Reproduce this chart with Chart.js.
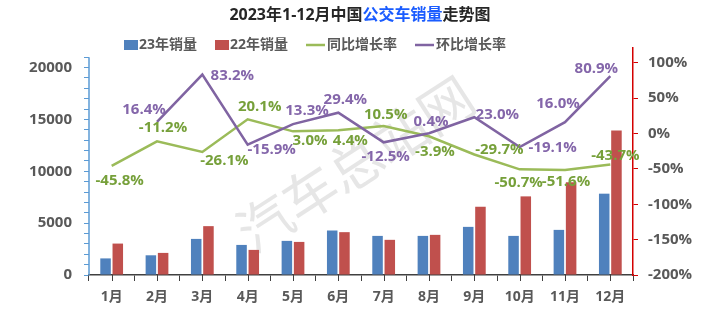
<!DOCTYPE html>
<html>
<head>
<meta charset="utf-8">
<script src="https://cdn.jsdelivr.net/npm/chart.js@4.4.1/dist/chart.umd.min.js"></script>
<style>
  body { margin: 0; background: #fff; }
  #wrap { width: 721px; height: 322px; position: relative; }
</style>
</head>
<body>
<div id="wrap"><canvas id="busChart"></canvas></div>
<script>
// data
var months = ['1月', '2月', '3月', '4月', '5月', '6月', '7月', '8月', '9月', '10月', '11月', '12月'];
var sales2023 = [1600, 1900, 3480, 2900, 3290, 4290, 3770, 3770, 4640, 3770, 4350, 7840];
var sales2022 = [3030, 2130, 4710, 2420, 3190, 4130, 3390, 3870, 6580, 7580, 8935, 13930];
var yoyRate = [-45.8, -11.2, -26.1, 20.1, 3.0, 4.4, 10.5, -3.9, -29.7, -50.7, -51.6, -43.7];
var momRate = [null, 16.4, 83.2, -15.9, 13.3, 29.4, -12.5, 0.4, 23.0, -19.1, 16.0, 80.9];
var leftTicks = [0, 5000, 10000, 15000, 20000];
var rightTicks = [-200, -150, -100, -50, 0, 50, 100];

// label offsets from their point (dx, dy)
var yoyLabelPos = [[8, 15], [6, -14], [22, 9], [12, -13], [17, 9], [12, 10], [2, -11], [6, 15], [25, -5], [-1, 13], [1, 12], [5, -9]];
var momLabelPos = [null, [-13, -12], [30, 1], [24, 5], [14, -13], [7, -13], [2, 14], [2, -11], [23, -2], [33, 1], [-7, -18], [-14, -7]];

var FONT = "'Open Sans', 'Noto Sans CJK SC', sans-serif";
var GREY = '#595959';
var BLUE = '#4f81bd', RED = '#c0504d', GREEN = '#9bbb59', PURPLE = '#8064a2';

var minorLeft = [];
for (var v = 0; v <= 21000; v += 1000) minorLeft.push(v);

var decorPlugin = {
    id: 'decor',
    beforeDatasetsDraw: function(chart) {
        var ctx = chart.ctx;
        // watermark
        ctx.save();
        ctx.translate(358, 168);
        ctx.rotate(-33 * Math.PI / 180);
        ctx.font = '54px ' + FONT;
        ctx.textAlign = 'center';
        ctx.textBaseline = 'middle';
        ctx.fillStyle = 'rgba(205,205,205,0.5)';
        ctx.fillText('汽车总站网', 0, 0);
        ctx.restore();
    },
    afterDraw: function(chart) {
        var ctx = chart.ctx;
        var x = chart.scales.x, y = chart.scales.y;

        // left axis line, stops at the top minor tick
        ctx.save();
        ctx.strokeStyle = '#5b9bd5';
        ctx.lineWidth = 1.5;
        ctx.beginPath();
        ctx.moveTo(y.right, y.getPixelForValue(0));
        ctx.lineTo(y.right, y.getPixelForValue(21000));
        ctx.stroke();

        // center tick marks on the x axis
        ctx.strokeStyle = '#404040';
        ctx.lineWidth = 1;
        for (var i = 0; i < months.length; i++) {
            var px = Math.round(x.getPixelForValue(i)) + 0.5;
            ctx.beginPath();
            ctx.moveTo(px, x.top);
            ctx.lineTo(px, x.top + 6);
            ctx.stroke();
        }

        // point labels
        ctx.font = 'bold 15px ' + FONT;
        ctx.textAlign = 'center';
        ctx.textBaseline = 'middle';
        var sets = [[2, yoyRate, yoyLabelPos, '#76a03a'], [3, momRate, momLabelPos, '#8466aa']];
        sets.forEach(function(s) {
            var meta = chart.getDatasetMeta(s[0]);
            ctx.fillStyle = s[3];
            s[1].forEach(function(val, k) {
                if (val === null) return;
                var pt = meta.data[k];
                var off = s[2][k];
                ctx.fillText(val.toFixed(1) + '%', pt.x + off[0], pt.y + off[1]);
            });
        });

        // title with the highlighted part in blue
        var parts = [['2023年1-12月中国', '#262626'], ['公交车销量', '#1a5cff'], ['走势图', '#262626']];
        ctx.font = 'bold 16px ' + FONT;
        ctx.textAlign = 'left';
        var total = 0;
        parts.forEach(function(p) { total += ctx.measureText(p[0]).width; });
        var tx = 360 - total / 2;
        parts.forEach(function(p) {
            ctx.fillStyle = p[1];
            ctx.fillText(p[0], tx, 15);
            tx += ctx.measureText(p[0]).width;
        });

        // legend
        var items = [['rect', BLUE, '23年销量'], ['rect', RED, '22年销量'], ['line', GREEN, '同比增长率'], ['line', PURPLE, '环比增长率']];
        ctx.font = 'bold 14px ' + FONT;
        var lx = 124, ly = 45;
        items.forEach(function(it) {
            ctx.fillStyle = it[1];
            ctx.strokeStyle = it[1];
            if (it[0] === 'rect') {
                ctx.fillRect(lx, ly - 5, 14, 10);
                lx += 15;
            } else {
                ctx.lineWidth = 2.5;
                ctx.beginPath();
                ctx.moveTo(lx, ly);
                ctx.lineTo(lx + 19, ly);
                ctx.stroke();
                lx += 21;
            }
            ctx.fillStyle = GREY;
            ctx.fillText(it[2], lx, ly);
            lx += ctx.measureText(it[2]).width + 18;
        });
        ctx.restore();
    }
};

var ctx = document.getElementById('busChart').getContext('2d');
var busChart = new Chart(ctx, {
    type: 'bar',
    data: {
        labels: months,
        datasets: [
        {
            label: '23年销量',
            data: sales2023,
            backgroundColor: BLUE,
            yAxisID: 'y',
            order: 2,
            categoryPercentage: 0.54,
            barPercentage: 0.86
        },
        {
            label: '22年销量',
            data: sales2022,
            backgroundColor: RED,
            yAxisID: 'y',
            order: 3,
            categoryPercentage: 0.54,
            barPercentage: 0.86
        },
        {
            type: 'line',
            label: '同比增长率',
            data: yoyRate,
            borderColor: GREEN,
            borderWidth: 2.5,
            pointRadius: 0,
            tension: 0,
            yAxisID: 'y1',
            order: 1
        },
        {
            type: 'line',
            label: '环比增长率',
            data: momRate,
            borderColor: PURPLE,
            borderWidth: 2.5,
            pointRadius: 0,
            tension: 0,
            yAxisID: 'y1',
            order: 0
        }
        ]
    },
    options: {
        responsive: true,
        maintainAspectRatio: false,
        animation: false,
        layout: { padding: { top: 48, left: 0, right: 0, bottom: 0 } },
        plugins: {
            legend: { display: false },
            title: { display: false },
            tooltip: { enabled: false }
        },
        scales: {
            x: {
                offset: true,
                grid: { offset: true, drawOnChartArea: false, tickLength: 6, color: '#404040' },
                border: { color: '#404040', width: 1.5 },
                ticks: { color: GREY, padding: 8, autoSkip: false, maxRotation: 0, font: { family: FONT, size: 14, weight: 'bold' } },
                afterFit: function(scale) { scale.height = 47; }
            },
            y: {
                position: 'left',
                min: 0,
                max: 21884,
                afterBuildTicks: function(scale) {
                    scale.ticks = minorLeft.map(function(v) { return { value: v }; });
                },
                grid: { drawOnChartArea: false, tickLength: 5, color: '#5b9bd5' },
                border: { display: false },
                ticks: {
                    color: GREY,
                    padding: 12,
                    autoSkip: false,
                    font: { family: FONT, size: 15, weight: 'bold' },
                    callback: function(v) { return leftTicks.indexOf(v) >= 0 ? String(v) : ''; }
                },
                afterFit: function(scale) { scale.width = 89; }
            },
            y1: {
                position: 'right',
                min: -200,
                max: 120.8,
                afterBuildTicks: function(scale) {
                    scale.ticks = rightTicks.map(function(v) { return { value: v }; });
                },
                grid: { drawOnChartArea: false, tickLength: 5, color: '#d40000' },
                border: { color: '#d40000', width: 1.5 },
                ticks: {
                    color: GREY,
                    padding: 10,
                    autoSkip: false,
                    font: { family: FONT, size: 15, weight: 'bold' },
                    callback: function(v) { return v + '%'; }
                },
                afterFit: function(scale) { scale.width = 88; }
            }
        }
    },
    plugins: [decorPlugin]
});
</script>
</body>
</html>
